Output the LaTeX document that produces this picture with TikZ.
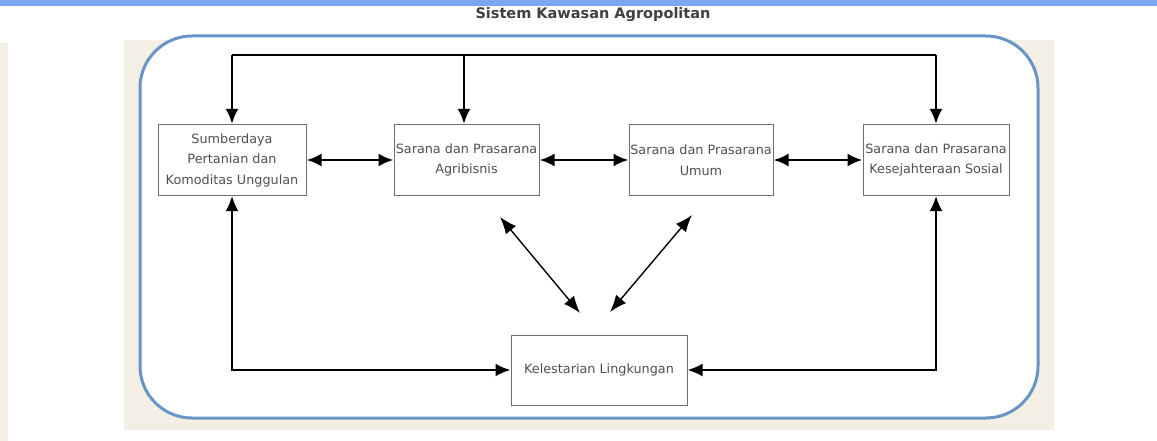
\documentclass[tikz,border=0pt]{standalone}
\usepackage{fontspec}
\setmainfont{DejaVu Sans}
\usetikzlibrary{arrows.meta}
\definecolor{barblue}{RGB}{122,167,245}
\definecolor{frameblue}{RGB}{104,148,200}
\definecolor{photo}{RGB}{236,226,206}
\definecolor{txt}{RGB}{80,80,80}
\definecolor{boxline}{RGB}{110,110,110}
\tikzset{
  box/.style={draw=boxline, line width=1pt, fill=white, text=txt, align=center,
    inner sep=0pt, minimum height=71pt, font=\fontsize{12.8}{20.5}\selectfont},
  thickarrow/.style={line width=2.6pt, {Latex[length=15pt,width=13pt]}-{Latex[length=15pt,width=13pt]}},
  downarrow/.style={line width=2.6pt, -{Latex[length=15pt,width=13pt]}},
  sidearrow/.style={line width=2.2pt, {Latex[length=15pt,width=13pt]}-{Latex[length=15pt,width=13pt]}},
  thinarrow/.style={line width=1.4pt, {Latex[length=17pt,width=13pt]}-{Latex[length=17pt,width=13pt]}},
}
\begin{document}
\begin{tikzpicture}[x=1pt,y=-1pt]
\useasboundingbox (0,0) rectangle (1157,441);
\fill[white] (0,0) rectangle (1157,441);
% faint photo background
\fill[photo, opacity=0.55] (124,40) rectangle (1054,430);
\fill[photo, opacity=0.55] (0,43) rectangle (8,441);
% top bar
\fill[barblue] (0,0) rectangle (1157,6);
% title
\node[font=\bfseries\fontsize{14.5}{16}\selectfont, text=txt!80!black] (title) at (593,15) {Sistem Kawasan Agropolitan};
% frame
\draw[frameblue, line width=3pt, fill=white, rounded corners=52pt] (140,36) rectangle (1038,418);
% boxes
\node[box, minimum width=148pt] (b1) at (232,160) {Sumberdaya\\Pertanian dan\\Komoditas Unggulan};
\node[box, minimum width=145pt] (b2) at (466.5,160) {Sarana dan Prasarana\\Agribisnis};
\node[box, minimum width=144pt] (b3) at (701,160) {Sarana dan Prasarana\\Umum};
\node[box, minimum width=146pt] (b4) at (936,160) {Sarana dan Prasarana\\Kesejahteraan Sosial};
\node[box, minimum width=176pt, minimum height=70pt] (b5) at (599,370) {Kelestarian Lingkungan};
% top distribution line
\coordinate (tl) at (232,55);
\coordinate (tm) at (464,55);
\coordinate (tr) at (936,55);
\draw[line width=2.6pt] (tl) -- (tr);
\draw[downarrow] (tl) -- (b1.north);
\draw[downarrow] (tm) -- (tm|-b2.north);
\draw[downarrow] (tr) -- (b4.north);
% horizontal links
\draw[thickarrow] (b1.east) -- (b2.west);
\draw[thickarrow] (b2.east) -- (b3.west);
\draw[thickarrow] (b3.east) -- (b4.west);
% bottom links
\draw[sidearrow] (b1.south) |- (b5.west);
\draw[sidearrow] (b4.south) |- (b5.east);
% diagonal links
\coordinate (d1a) at (500,217);
\coordinate (d1b) at (580,313);
\coordinate (d2a) at (692,215);
\coordinate (d2b) at (610,312);
\draw[thinarrow] (d1a) -- (d1b);
\draw[thinarrow] (d2a) -- (d2b);
\end{tikzpicture}
\end{document}
